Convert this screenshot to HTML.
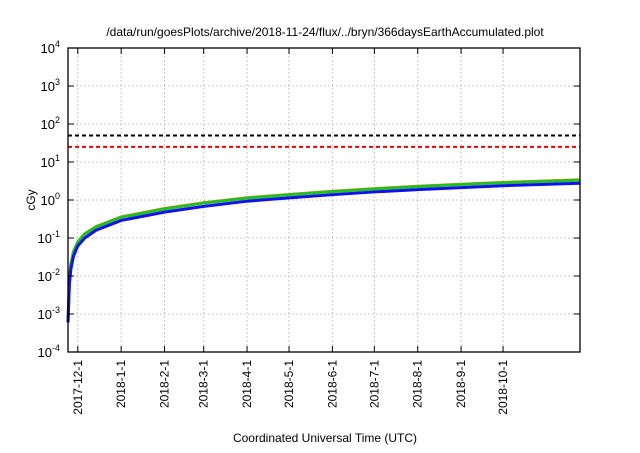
<!DOCTYPE html>
<html><head><meta charset="utf-8"><style>
body{margin:0;background:#fff;}
svg text{font-family:"Liberation Sans",sans-serif;fill:#000;}
</style></head><body>
<svg id="c" width="640" height="448" xmlns="http://www.w3.org/2000/svg">
<text x="325" y="36" font-size="12" text-anchor="middle">/data/run/goesPlots/archive/2018-11-24/flux/../bryn/366daysEarthAccumulated.plot</text>
<text x="325" y="442" font-size="12" text-anchor="middle">Coordinated Universal Time (UTC)</text>
<text x="0" y="0" font-size="12" text-anchor="middle" transform="translate(35,200) rotate(-90)">cGy</text>
<g id="grid"></g><g id="series"></g><g id="axes"></g>
</svg>
<script>
const tickLabels=["2017-12-1","2018-1-1","2018-2-1","2018-3-1","2018-4-1","2018-5-1","2018-6-1","2018-7-1","2018-8-1","2018-9-1","2018-10-1"];
const tickDays=[7,38,69,97,128,158,189,219,250,281,311];
const yExps=[-4,-3,-2,-1,0,1,2,3,4];
const sampleDays=[0,1,2,4,7,12,20,38,69,97,128,158,189,219,250,281,311,366];
const orangeVals=[0.0006,0.008,0.02,0.045,0.08,0.13,0.2,0.36,0.6,0.85,1.15,1.4,1.7,2.0,2.3,2.6,2.9,3.4];
const greenVals=[0.0006,0.008,0.02,0.044,0.078,0.127,0.195,0.35,0.58,0.83,1.12,1.37,1.66,1.95,2.25,2.55,2.85,3.3];
const blueVals=[0.0006,0.006,0.015,0.034,0.062,0.1,0.16,0.29,0.48,0.68,0.93,1.14,1.38,1.63,1.88,2.12,2.38,2.75];
const limitVals=[50,25];
const L=68,R=580,T=48,B=352,DAYS=366;
const X=d=>L+d*(R-L)/DAYS;
const Y=v=>B-(Math.log10(v)+4)*(B-T)/8;
const NS="http://www.w3.org/2000/svg";
function mk(p,t,a){const e=document.createElementNS(NS,t);for(const k in a)e.setAttribute(k,a[k]);p.appendChild(e);return e;}
const g=document.getElementById('grid'),s=document.getElementById('series'),ax=document.getElementById('axes');
yExps.forEach(e=>{const y=Y(Math.pow(10,e));
 if(e>-4&&e<4){const l=mk(g,'line',{x1:L,x2:R,y1:y,y2:y,stroke:'#bbb','stroke-dasharray':'1.5,2.5','stroke-width':1});
 
 }
 mk(ax,'line',{x1:L,x2:L+6,y1:y,y2:y,stroke:'#000'});mk(ax,'line',{x1:R-6,x2:R,y1:y,y2:y,stroke:'#000'});
 const t=mk(ax,'text',{x:L-8,y:y+5,'font-size':13,'text-anchor':'end'});
 
 
 t.innerHTML='10<tspan dy="-6" font-size="9">'+e+'</tspan>';});
tickDays.forEach((d,i)=>{const x=X(d);
 const l=mk(g,'line',{x1:x,x2:x,y1:T,y2:B,stroke:'#bbb','stroke-dasharray':'1.5,2.5','stroke-width':1});
 
 
 mk(ax,'line',{x1:x,x2:x,y1:B,y2:B-6,stroke:'#000'});mk(ax,'line',{x1:x,x2:x,y1:T,y2:T+6,stroke:'#000'});
 const t=mk(ax,'text',{x:0,y:0,'font-size':12,'text-anchor':'end',transform:`translate(${x+4},${B+8}) rotate(-90)`});
 
 
 t.textContent=tickLabels[i];});
const fr=mk(ax,'rect',{x:L,y:T,width:R-L,height:B-T,fill:'none',stroke:'#000','stroke-width':1.3});


[['#000','limit-50'],['#e00','limit-25']].forEach((c,i)=>{const y=Y(limitVals[i]);
 const l=mk(s,'line',{x1:L,x2:R,y1:y,y2:y,stroke:c[0],'stroke-width':2,'stroke-dasharray':'4,3'});
 
 });
[[orangeVals,'#f08020','orange-series'],[greenVals,'#20c020','green-series'],[blueVals,'#1010f0','blue-series']].forEach(([v,c,n])=>{
 const p=mk(s,'polyline',{points:sampleDays.map((d,i)=>X(d)+','+Y(v[i])).join(' '),fill:'none',stroke:c,'stroke-width':3});
 
 });
</script>
</body></html>
